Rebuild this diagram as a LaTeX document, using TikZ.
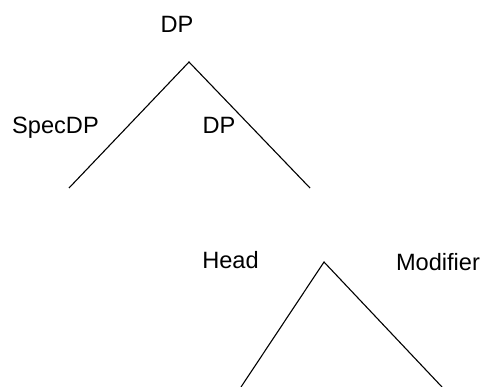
\documentclass[tikz,border=0pt]{standalone}
\usepackage{fontspec}
\setmainfont{Liberation Sans}
\begin{document}
\begin{tikzpicture}[x=1pt,y=-1pt,
  lbl/.style={font=\fontsize{23.6}{28}\selectfont, inner sep=0pt, anchor=base},
  edge/.style={line width=1.1pt, line cap=butt}]
\useasboundingbox (0,0) rectangle (481,387);
% labels
\node[lbl] (dptop) at (177,33) {DP};
\node[lbl] (spec) at (55.5,134) {SpecDP};
\node[lbl] (dpsub) at (219,134) {DP};
\node[lbl] (head) at (230.5,268) {Head};
\node[lbl] (mod) at (438,270) {Modifier};
% first tree
\coordinate (a1) at (189,62);
\coordinate (l1) at (69,188);
\coordinate (r1) at (310,188);
\draw[edge] (l1) -- (a1) -- (r1);
% second tree
\coordinate (a2) at (324,262);
\coordinate (l2) at (241,387);
\coordinate (r2) at (442,387);
\draw[edge] (l2) -- (a2) -- (r2);
\end{tikzpicture}
\end{document}
